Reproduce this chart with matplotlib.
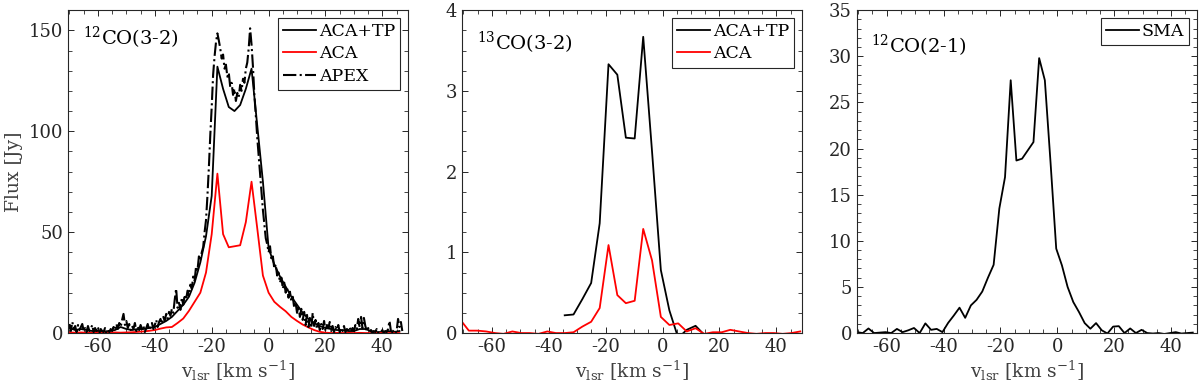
#!/usr/bin/python

import sys

import numpy as np
import matplotlib
matplotlib.use("Agg")
import matplotlib.pyplot as plt
from matplotlib.ticker import MultipleLocator

plt.rcParams["font.family"] = "DejaVu Serif"
plt.rcParams["mathtext.fontset"] = "dejavuserif"
plt.rcParams["axes.unicode_minus"] = False


# 12CO(3-2): ACA and ACA+TP channels (2 km/s)
v_aca12 = [-70, -68, -66, -64, -62, -60, -58, -56, -54, -52, -50, -48, -46, -44,
           -42, -40, -38, -36, -34, -32, -30, -28, -26, -24, -22, -20, -18, -16,
           -14, -12, -10, -8, -6, -4, -2, 0, 2, 4, 6, 8, 10, 12, 14, 16, 18, 20,
           22, 24, 26, 28, 30, 32, 34, 36, 38, 40, 42, 44, 46]
acatp12 = [2.5, 1.5, 2.0, 1.5, 1.0, 1.0, 0.8, 1.0, 1.5, 3.0, 2.0, 1.5, 2.0, 2.0,
           2.5, 3.0, 4.5, 6.0, 8.0, 11.0, 14.0, 18.0, 25.0, 35.0, 48.0, 68.0, 132.0, 121.0,
           112.0, 110.0, 113.0, 121.0, 131.0, 103.0, 75.0, 42.0, 34.0, 28.0, 23.0, 18.0, 14.0, 10.0, 7.0, 5.0, 3.5, 2.5,
           2.0, 1.5, 1.5, 1.0, 1.0, 2.0, 2.0, 1.0, 0.5, 0.5, 1.0, 0.5, 1.0]
aca12 = [0.3, 0.2, 0.3, 0.2, 0.1, 0.2, 0.1, 0.2, 0.3, 0.2, 0.3, 0.4, 0.6, 0.8,
         1.1, 1.5, 2.2, 2.8, 3.0, 5.0, 7.2, 11.0, 15.5, 20.0, 30.0, 49.0, 79.0, 49.0,
         42.5, 43.0, 43.5, 55.0, 75.0, 52.0, 28.5, 20.0, 15.5, 13.0, 10.8, 8.0, 6.0, 4.2, 2.8, 1.5, 0.6, 0.2,
         0.0, 0.1, 0.0, 0.1, 0.0, 0.1, 0.0, 0.0, 0.1, 0.0, 0.0, 0.1, 0.0]

# 12CO(3-2): APEX single dish spectrum, -70 .. 47 km/s in 0.5 km/s channels
apex12 = [
  4.5, 1.0, 5.5, 2.0, 3.5, 0.5, 4.0, 1.5, 3.0, 4.5,
  1.0, 2.5, 0.5, 3.5, 1.0, 2.0, 4.0, 0.5, 2.5, 1.0,
  3.0, 0.0, 2.0, 1.0, 0.5, 2.5, 0.0, 1.5, 0.5, 2.0,
  1.0, 3.0, 1.5, 4.5, 2.0, 5.0, 3.0, 6.5, 9.5, 4.0,
  6.0, 2.5, 4.5, 1.5, 3.5, 2.0, 5.0, 1.0, 3.0, 1.5,
  4.0, 2.0, 3.5, 0.5, 2.5, 4.5, 1.5, 3.0, 5.0, 2.0,
  4.0, 6.5, 3.0, 5.5, 7.0, 4.5, 8.0, 6.0, 9.5, 7.0,
  10.5, 8.5, 12.0, 10.0, 16.5, 22.0, 12.5, 15.0, 11.5, 17.5,
  14.0, 19.0, 16.5, 21.0, 18.5, 24.0, 22.0, 28.0, 26.0, 33.0,
  31.0, 38.0, 36.0, 40.0, 42.5, 50.0, 56.0, 68.0, 82.0, 98.0,
  112.0, 128.0, 137.0, 144.0, 148.5, 145.0, 141.0, 136.0, 138.0, 131.0,
  133.0, 127.0, 129.0, 122.0, 124.0, 118.0, 121.0, 115.0, 119.0, 117.0,
  123.0, 120.0, 126.0, 124.0, 131.0, 134.0, 141.0, 151.0, 143.0, 132.0,
  118.0, 108.0, 97.0, 88.0, 79.0, 70.0, 61.0, 54.0, 47.0, 44.0,
  40.0, 43.0, 36.0, 38.0, 32.0, 34.0, 28.5, 30.0, 25.0, 27.5,
  22.0, 25.0, 20.0, 22.5, 17.5, 20.5, 15.5, 18.0, 12.5, 15.0,
  10.0, 13.5, 8.0, 12.0, 6.5, 10.5, 4.0, 9.0, 3.0, 7.5,
  2.5, 10.0, 3.5, 6.5, 2.0, 5.0, 1.5, 4.5, 2.0, 6.0,
  1.0, 4.0, 2.5, 5.5, 1.0, 3.5, 0.5, 3.0, 1.5, 4.0,
  0.5, 2.5, 1.0, 3.5, 0.5, 2.0, 1.5, 3.0, 0.5, 2.5,
  1.0, 4.0, 2.0, 7.0, 3.0, 8.0, 2.5, 7.5, 3.5, 1.0,
  2.5, 0.5, 1.5, 0.0, 1.0, 0.5, 2.0, 0.0, 1.0, 0.5,
  1.5, 0.0, 1.0, 0.5, 2.0, 6.0, 1.0, 0.5, 1.5, 0.0,
  1.0, 7.0, 3.0, 5.5, 1.0]
v_apex12 = np.linspace(-70.0, 47.0, len(apex12))

# 13CO(3-2): channels of ~3.07 km/s
v_aca13 = [-71.2, -68.1, -65.1, -62.0, -58.9, -55.9, -52.8, -49.7, -46.7, -43.6,
           -40.5, -37.5, -34.4, -31.3, -28.2, -25.1, -22.1, -19.0, -15.9, -12.9,
           -9.8, -6.8, -3.7, -0.6, 2.4, 5.5, 8.5, 11.6, 14.6, 17.7,
           20.8, 23.8, 26.9, 30.0, 33.0, 36.1, 39.2, 42.2, 45.3, 48.4]
aca13 = [0.17, 0.03, 0.03, 0.02, 0.0, -0.01, 0.02, 0.0, 0.0, -0.01,
         0.02, 0.0, 0.0, 0.01, 0.08, 0.14, 0.31, 1.09, 0.47, 0.37,
         0.40, 1.29, 0.90, 0.20, 0.10, 0.12, 0.02, 0.06, -0.01, 0.01,
         0.01, 0.04, 0.02, 0.0, -0.01, 0.0, 0.0, -0.01, 0.0, 0.02]
v_acatp13 = [-34.4, -31.3, -28.2, -25.1, -22.1, -19.0, -15.9, -12.9, -9.8,
             -6.8, -3.7, -0.6, 2.4, 5.5, 8.5, 11.6, 14.6]
acatp13 = [0.22, 0.23, 0.42, 0.62, 1.36, 3.33, 3.20, 2.42, 2.41,
           3.67, 2.25, 0.78, 0.28, -0.06, 0.04, 0.09, -0.02]

# 12CO(2-1): SMA channels (2 km/s)
v_sma = [-70.4, -68.4, -66.4, -64.4, -62.4, -60.4, -58.4, -56.4, -54.4, -52.4,
         -50.4, -48.4, -46.4, -44.4, -42.4, -40.4, -38.4, -36.4, -34.4, -32.4,
         -30.4, -28.4, -26.4, -24.4, -22.4, -20.4, -18.4, -16.4, -14.4, -12.4,
         -10.4, -8.4, -6.4, -4.4, -2.4, -0.4, 1.6, 3.6, 5.6, 7.6,
         9.6, 11.6, 13.6, 15.6, 17.6, 19.6, 21.6, 23.6, 25.6, 27.6,
         29.6, 31.6, 33.6, 35.6, 37.6, 39.6, 41.6, 43.6, 45.6, 47.6]
sma21 = [0.1, 0.0, 0.5, 0.0, 0.05, 0.1, 0.0, 0.45, 0.1, 0.3,
         0.55, 0.0, 1.05, 0.35, 0.45, 0.1, 1.1, 1.9, 2.75, 1.65,
         3.0, 3.6, 4.5, 6.0, 7.4, 13.5, 16.9, 27.4, 18.7, 18.9,
         19.8, 20.7, 29.8, 27.4, 18.5, 9.15, 7.34, 5.0, 3.36, 2.28,
         1.08, 0.47, 1.08, 0.3, -0.05, 0.7, 0.75, 0.0, 0.5, 0.0,
         0.35, 0.0, -0.05, 0.0, -0.1, 0.0, 0.1, -0.05, 0.0, 0.05]


_dark = "#262626"
_xlabel = r"v$_{\rm lsr}$ [km s$^{-1}$]"


def _styleAx(ax, ymax, ymaj, ymin):
  """
  MATLAB-like box axes.
  """

  ax.set_xlim(-70.5, 49)
  ax.set_ylim(0, ymax)
  ax.xaxis.set_major_locator(MultipleLocator(20))
  ax.xaxis.set_minor_locator(MultipleLocator(5))
  ax.yaxis.set_major_locator(MultipleLocator(ymaj))
  ax.yaxis.set_minor_locator(MultipleLocator(ymin))
  ax.tick_params(which='both', direction='in', top=True, right=True,
                 color=_dark, labelcolor=_dark, labelsize=13)
  ax.tick_params(which='major', length=4.5, width=0.7)
  ax.tick_params(which='minor', length=3, width=0.6)
  for sp in ax.spines.values():
    sp.set_color(_dark)
    sp.set_linewidth(0.8)
  ax.set_xlabel(_xlabel, fontsize=13.5, color='#404040', labelpad=2)


def _legend(ax):
  leg = ax.legend(loc='upper right', fontsize=12.5, fancybox=False,
                  framealpha=1, edgecolor=_dark, handlelength=1.9,
                  handletextpad=0.15, borderpad=0.3, labelspacing=0.3,
                  borderaxespad=0.45)
  leg.get_frame().set_linewidth(0.8)


def main():
  """
  Draw the three spectra.
  """

  fig = plt.figure(figsize=(12, 3.9), dpi=100)

  w = 0.2833
  b = 0.146
  h = 0.828
  ax1 = fig.add_axes([0.0567, b, w, h])
  ax2 = fig.add_axes([0.385, b, w, h])
  ax3 = fig.add_axes([0.714, b, w, h])

  # 12CO(3-2)
  ax1.plot(v_aca12, acatp12, '-', color='k', lw=1.3, label='ACA+TP')
  ax1.plot(v_aca12, aca12, '-', color='red', lw=1.3, label='ACA')
  ax1.plot(v_apex12, apex12, '-.', color='k', lw=1.5, label='APEX')
  _styleAx(ax1, 160, 50, 10)
  ax1.set_ylabel("Flux [Jy]", fontsize=13.5, color='#404040', labelpad=4)
  ax1.text(0.043, 0.955, r"$^{12}$CO(3-2)", transform=ax1.transAxes,
           fontsize=14, va='top', ha='left')
  _legend(ax1)

  # 13CO(3-2)
  ax2.plot(v_acatp13, acatp13, '-', color='k', lw=1.3, label='ACA+TP')
  ax2.plot(v_aca13, aca13, '-', color='red', lw=1.3, label='ACA')
  _styleAx(ax2, 4, 1, 0.25)
  ax2.text(0.045, 0.94, r"$^{13}$CO(3-2)", transform=ax2.transAxes,
           fontsize=14, va='top', ha='left')
  _legend(ax2)

  # 12CO(2-1)
  ax3.plot(v_sma, sma21, '-', color='k', lw=1.3, label='SMA')
  _styleAx(ax3, 35, 5, 1)
  ax3.text(0.043, 0.93, r"$^{12}$CO(2-1)", transform=ax3.transAxes,
           fontsize=14, va='top', ha='left')
  _legend(ax3)

  fig.savefig("out.png", dpi=100)


if __name__ == "__main__":
  try:
    main()
  except KeyboardInterrupt:
    sys.exit("Interrupted by user")
